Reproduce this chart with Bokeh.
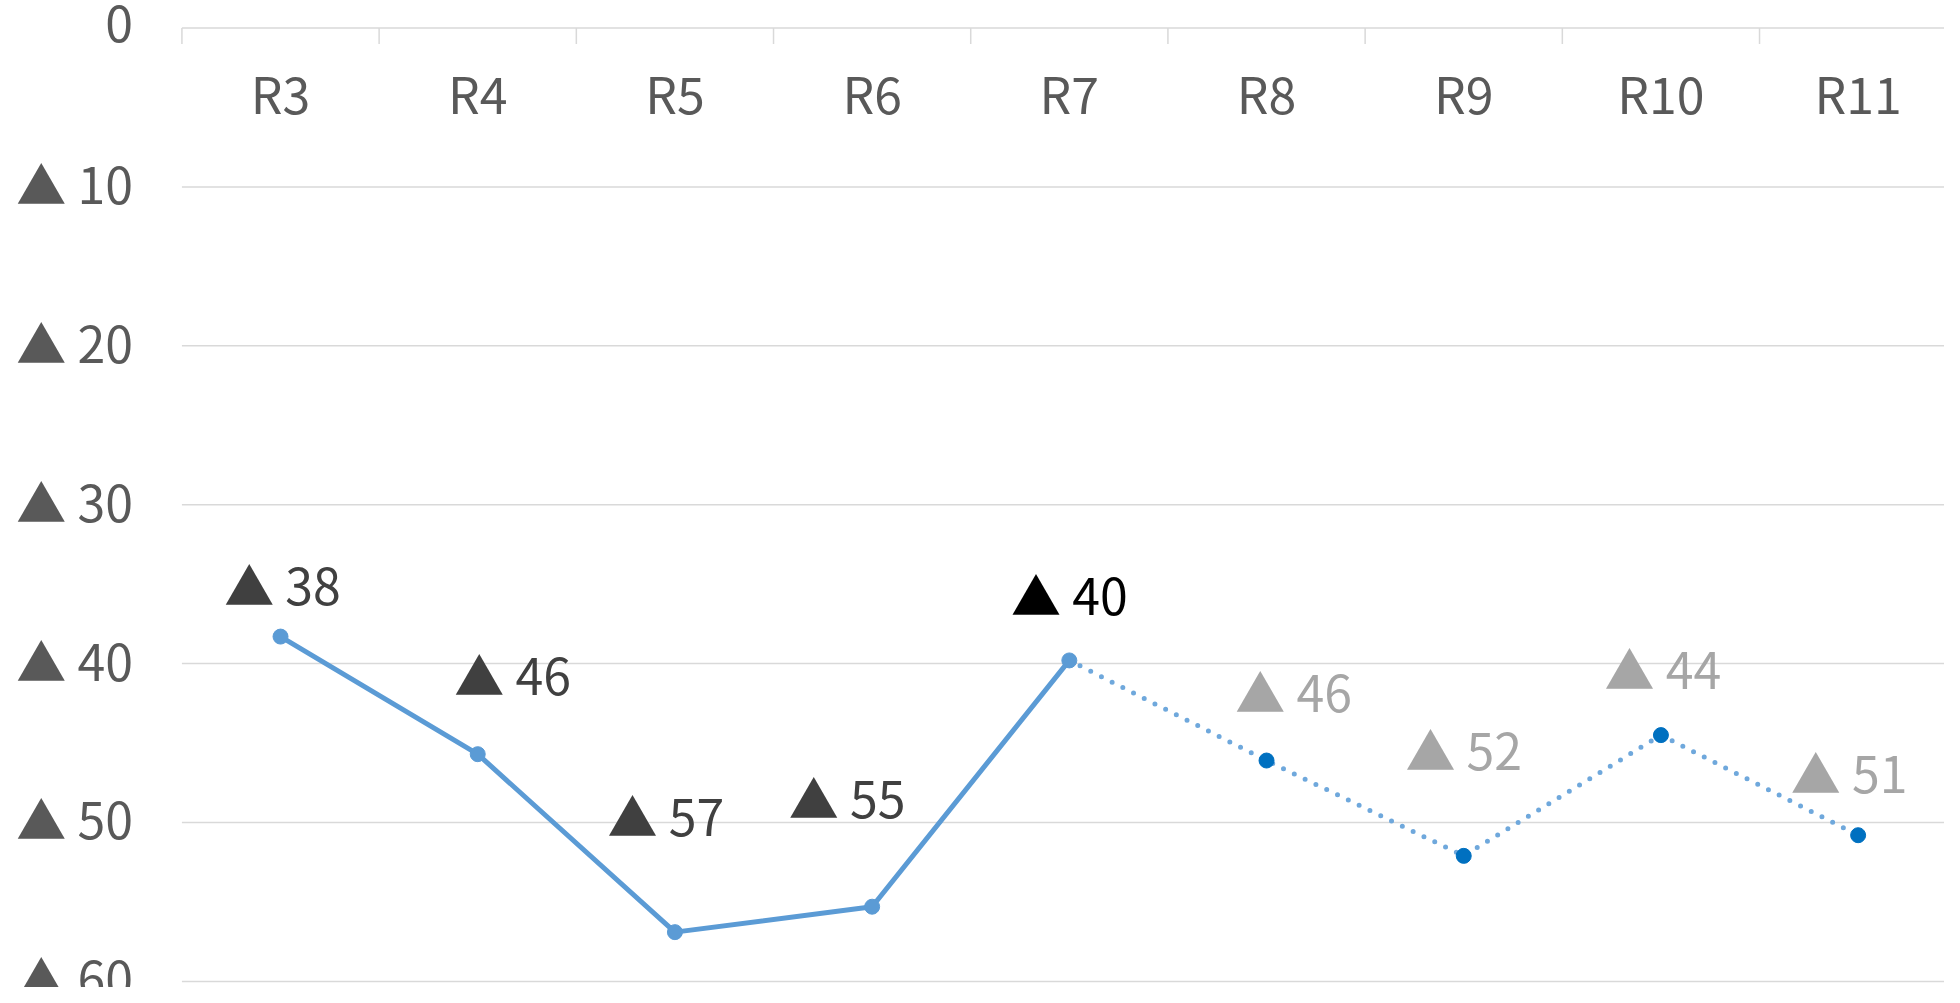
import math
from bokeh.plotting import figure
from bokeh.models import Range1d, ColumnDataSource
from bokeh.core.properties import value
from bokeh.embed import file_html
from bokeh.resources import INLINE

# ---- data ----
rounds = ["R3", "R4", "R5", "R6", "R7", "R8", "R9", "R10", "R11"]
rank = [38.3, 45.7, 56.9, 55.3, 39.8, 46.1, 52.1, 44.5, 50.8]
label_values = [38, 46, 57, 55, 40, 46, 52, 44, 51]
n_actual = 5  # R3..R7 solid, R7..R11 dotted
y_ticks = [0, 10, 20, 30, 40, 50, 60]

# ---- label styling (screen-pixel offsets and colours) ----
label_colors = ["#404040"] * 4 + ["#000000"] + ["#a6a6a6"] * 4
label_dx = [2, 35, -9, -25, 0, 27, 0, 2, -9]
label_dy = [-54, -81, -118, -111, -67, -71, -108, -68, -64]

FONT = "Noto Sans CJK JP"
FS = "50px"
TXT = "#595959"
GRID = "#d9d9d9"

n = len(rounds)
centers = [i + 0.5 for i in range(n)]
bounds = list(range(n + 1))

# the frame covers the whole canvas so that the axis texts are never clipped
p = figure(width=1944, height=987,
           x_range=Range1d(-0.920, n - 0.062), y_range=Range1d(y_ticks[-1] + 0.384, y_ticks[0] - 1.731),
           output_backend="svg", toolbar_location=None,
           x_axis_location=None, y_axis_location=None,
           min_border_left=0, min_border_top=0, min_border_right=0, min_border_bottom=0)
p.outline_line_color = None
p.background_fill_color = "white"
p.xgrid.grid_line_color = None
p.ygrid.grid_line_color = None

# horizontal gridlines (the one at 0 doubles as the top category axis line)
p.segment(x0=[bounds[0]] * len(y_ticks), x1=[bounds[-1]] * len(y_ticks), y0=y_ticks, y1=y_ticks,
          line_color=GRID, line_width=1.5)
# category boundary ticks hanging down from the top axis line
p.ray(x=bounds, y=[y_ticks[0]] * len(bounds), length=16, length_units="screen",
      angle=-math.pi / 2, line_color=GRID, line_width=1.5)

# category labels under the top axis line
p.text(x=centers, y=[y_ticks[0]] * n, text=rounds, y_offset=64,
       text_align="center", text_baseline="middle", text_color=TXT,
       text_font=value(FONT), text_font_size=FS)

# value-axis labels
p.text(x=[bounds[0]] * len(y_ticks), y=y_ticks,
       text=["0" if v == 0 else "\u25B2 %d" % v for v in y_ticks],
       x_offset=-49, y_offset=-5, text_align="right", text_baseline="middle",
       text_color=TXT, text_font=value(FONT), text_font_size=FS)

# lines
p.line(centers[:n_actual], rank[:n_actual], line_color="#5B9BD5", line_width=5)
p.line(centers[n_actual - 1:], rank[n_actual - 1:], line_color="#6FA8DC", line_width=5,
       line_dash="0 12", line_cap="round")

# markers
p.scatter(centers[:n_actual], rank[:n_actual], size=15, color="#5B9BD5")
p.scatter(centers[n_actual:], rank[n_actual:], size=15, color="#0070C0")

# data labels
src = ColumnDataSource(dict(
    x=centers, y=rank, t=["\u25B2 %d" % v for v in label_values],
    c=label_colors, dx=label_dx, dy=label_dy))
p.text(x="x", y="y", text="t", x_offset="dx", y_offset="dy", text_color="c",
       text_align="center", text_baseline="middle",
       text_font=value(FONT), text_font_size=FS, source=src)

open("out.html", "w").write(file_html(p, INLINE))
